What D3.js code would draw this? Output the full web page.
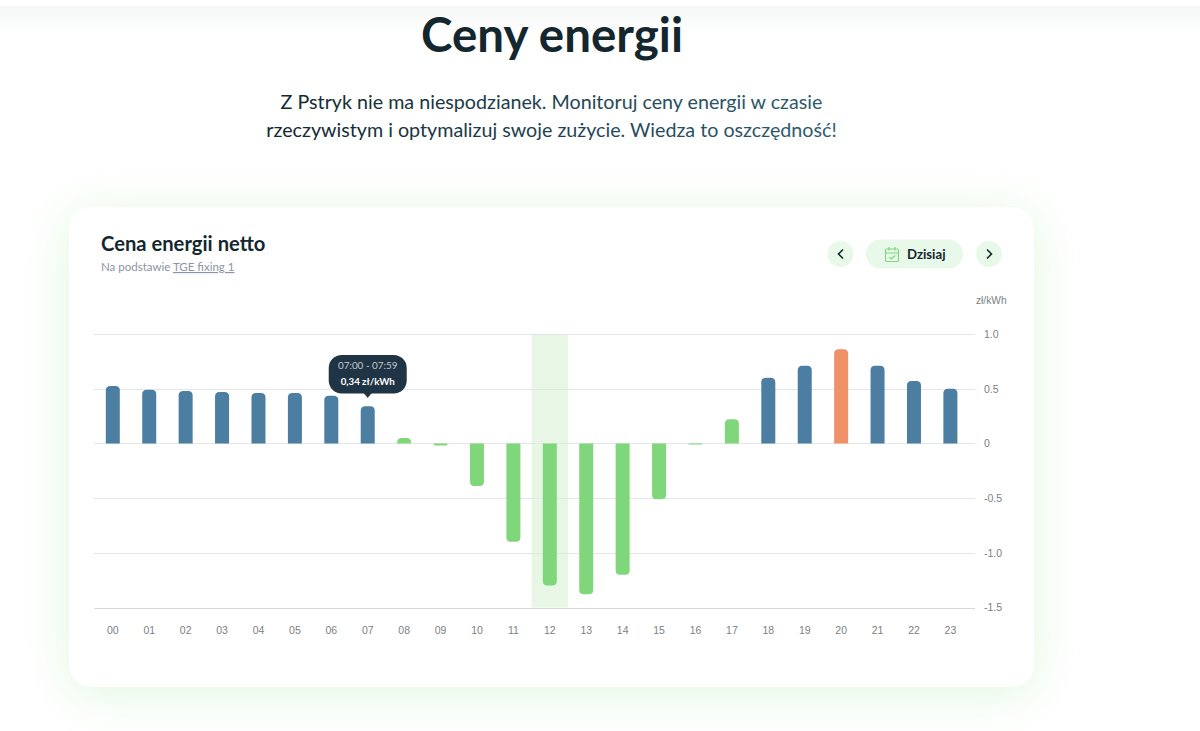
<!DOCTYPE html>
<html>
<head>
<meta charset="utf-8">
<script src="https://cdn.jsdelivr.net/npm/d3@7"></script>
<style>
  html, body { margin: 0; padding: 0; background: #fff; overflow: hidden; }
  svg { display: block; }
  text { font-family: Lato, "Open Sans", sans-serif; }
  .axis text { font-family: "Liberation Sans", Arial, sans-serif; }
</style>
</head>
<body>
<script>
// chart data
const hours = ["00","01","02","03","04","05","06","07","08","09","10","11","12","13","14","15","16","17","18","19","20","21","22","23"];
const prices = [0.525,0.49,0.48,0.47,0.46,0.46,0.435,0.34,0.05,-0.02,-0.39,-0.90,-1.30,-1.38,-1.20,-0.51,-0.01,0.22,0.60,0.71,0.86,0.71,0.57,0.50];
const yTicks = [1.0,0.5,0,-0.5,-1.0,-1.5];
const yTickLabels = ["1.0","0.5","0","-0.5","-1.0","-1.5"];
const currentHour = "12";
const tooltipHour = "07";
const tooltipLines = ["07:00 - 07:59","0,34 zł/kWh"];
const introLines = ["Z Pstryk nie ma niespodzianek. Monitoruj ceny energii w czasie","rzeczywistym i optymalizuj swoje zużycie. Wiedza to oszczędność!"];

const xSize = 1200, ySize = 731;
const margin = {top: 334, right: 232, bottom: 123.5, left: 94};

const svg = d3.select("body").append("svg").attr("width", xSize).attr("height", ySize);
const defs = svg.append("defs");

// page header
const topFade = defs.append("linearGradient").attr("id","topFade").attr("x1",0).attr("x2",0).attr("y1",0).attr("y2",1);
topFade.append("stop").attr("offset",0).attr("stop-color","#f6f7f7");
topFade.append("stop").attr("offset",1).attr("stop-color","#ffffff");
svg.append("rect").attr("x",0).attr("y",6).attr("width",xSize).attr("height",30).attr("fill","url(#topFade)");

svg.append("text").attr("x",552).attr("y",52).attr("text-anchor","middle")
  .attr("font-size",47.5).attr("font-weight",700).attr("fill","#14272f").text("Ceny energii");

const introFill = defs.append("linearGradient").attr("id","introFill").attr("gradientUnits","userSpaceOnUse")
  .attr("x1",267).attr("x2",836).attr("y1",0).attr("y2",0);
introFill.append("stop").attr("offset",0).attr("stop-color","#14272f");
introFill.append("stop").attr("offset",1).attr("stop-color","#2f5d70");
svg.selectAll(".intro").data(introLines).join("text").attr("class","intro")
  .attr("x",551.5).attr("y",(d,i) => 109 + i*28).attr("text-anchor","middle")
  .attr("font-size",19.7).attr("fill","url(#introFill)").text(d => d);

// card with the pale green glow
svg.append("rect").attr("x",69).attr("y",207).attr("width",965).attr("height",480).attr("rx",22)
  .attr("fill","#fff").style("filter","drop-shadow(0 6px 26px rgba(120,220,120,0.22))");

svg.append("text").attr("x",101).attr("y",251).attr("font-size",20.2).attr("font-weight",700).attr("fill","#14272f").text("Cena energii netto");
const sub = svg.append("text").attr("x",101).attr("y",271).attr("font-size",11.5).attr("fill","#8b93a6");
sub.append("tspan").text("Na podstawie ");
sub.append("tspan").attr("text-decoration","underline").text("TGE fixing 1");

// date controls
const paleGreen = "#e9f9e9";
svg.append("circle").attr("cx",840.5).attr("cy",254).attr("r",13).attr("fill",paleGreen);
svg.append("circle").attr("cx",989).attr("cy",254).attr("r",13).attr("fill",paleGreen);
svg.append("rect").attr("x",866).attr("y",239.5).attr("width",97).attr("height",29).attr("rx",14.5).attr("fill",paleGreen);
svg.append("path").attr("d","M843 249.5l-4.5 4.5 4.5 4.5").attr("fill","none").attr("stroke","#14272f").attr("stroke-width",1.6);
svg.append("path").attr("d","M987 249.5l4.5 4.5 -4.5 4.5").attr("fill","none").attr("stroke","#14272f").attr("stroke-width",1.6);
const cal = svg.append("g").attr("fill","none").attr("stroke","#7fd67f").attr("stroke-width",1.2);
cal.append("rect").attr("x",885.5).attr("y",249).attr("width",13).attr("height",12.5).attr("rx",1.5);
cal.append("path").attr("d","M885.5 253h13M889 247v3.5M895 247v3.5M889.5 257l2 2 3.5 -3.5");
svg.append("text").attr("x",907).attr("y",258.5).attr("font-size",13.2).attr("font-weight",700).attr("fill","#14272f").text("Dzisiaj");

// scales
const x = d3.scaleBand().domain(hours).range([margin.left + 0.6, margin.left + 0.6 + 874]);
const y = d3.scaleLinear().domain([1,-1.5]).range([margin.top, ySize - margin.bottom]);
const barW = 14;
const barX = h => x(h) + x.bandwidth()/2 - barW/2;

// current hour band
svg.append("rect").attr("x",x(currentHour)).attr("y",y(1)).attr("width",x.bandwidth()).attr("height",y(-1.5)-y(1)).attr("fill","#e7f6e5");

// gridlines and y axis
const yAxis = svg.append("g").attr("class","axis").attr("transform","translate(975,0)")
  .call(d3.axisRight(y).tickValues(yTicks).tickSize(0).tickPadding(9).tickFormat((d,i) => yTickLabels[i]));
yAxis.select(".domain").remove();
yAxis.selectAll("text").attr("font-size",10.5).attr("fill","#7c7f84");
svg.append("g").selectAll("line").data(yTicks).join("line")
  .attr("x1",margin.left).attr("x2",975).attr("y1",d => Math.round(y(d)) + 0.5).attr("y2",d => Math.round(y(d)) + 0.5)
  .attr("stroke",d => d === -1.5 ? "#d5d8d8" : "#e4e6e6").attr("stroke-width",1);
svg.append("text").attr("class","axis").attr("x",976).attr("y",304).attr("font-size",10.2).attr("fill","#7c7f84")
  .style("font-family","'Liberation Sans', Arial, sans-serif").text("zł/kWh");

// x axis
const xAxis = svg.append("g").attr("class","axis").attr("transform","translate(0," + y(-1.5) + ")")
  .call(d3.axisBottom(x).tickSize(0).tickPadding(15));
xAxis.select(".domain").remove();
xAxis.selectAll("text").attr("font-size",10.5).attr("fill","#7c7f84").attr("dy","1.05em");

// bars, rounded at the far end
function barPath(h, v) {
  const x0 = barX(h), y0 = y(0), y1 = y(v), s = v >= 0 ? -1 : 1;
  const r = Math.min(4.5, Math.abs(y1 - y0), barW/2);
  const bend = d3.path();
  bend.moveTo(x0, y0);
  bend.lineTo(x0, y1 - s*r);
  bend.quadraticCurveTo(x0, y1, x0 + r, y1);
  bend.lineTo(x0 + barW - r, y1);
  bend.quadraticCurveTo(x0 + barW, y1, x0 + barW, y1 - s*r);
  bend.lineTo(x0 + barW, y0);
  bend.closePath();
  return bend.toString();
}
function barColor(v) {
  if (v > 0.8) return "#ee9169";
  if (v > 0.3) return "#4b7ea1";
  return "#80d67b";
}
svg.append("g").selectAll("path").data(hours).join("path")
  .attr("d",(h,i) => barPath(h, prices[i]))
  .attr("fill",(h,i) => barColor(prices[i]));

// tooltip
const tipX = x(tooltipHour) + x.bandwidth()/2;
const tip = svg.append("g");
tip.append("rect").attr("x",tipX - 39).attr("y",355).attr("width",78).attr("height",38.5).attr("rx",13).attr("fill","#1f3545");
tip.append("path").attr("d",`M${tipX-4} 393 L${tipX} 398 L${tipX+4} 393Z`).attr("fill","#1f3545");
tip.append("text").attr("x",tipX).attr("y",369).attr("text-anchor","middle").attr("font-size",9.9).attr("fill","#c3cbd0").text(tooltipLines[0]);
tip.append("text").attr("x",tipX).attr("y",385).attr("text-anchor","middle").attr("font-size",9.7).attr("font-weight",700).attr("fill","#fff").text(tooltipLines[1]);
</script>
</body>
</html>
